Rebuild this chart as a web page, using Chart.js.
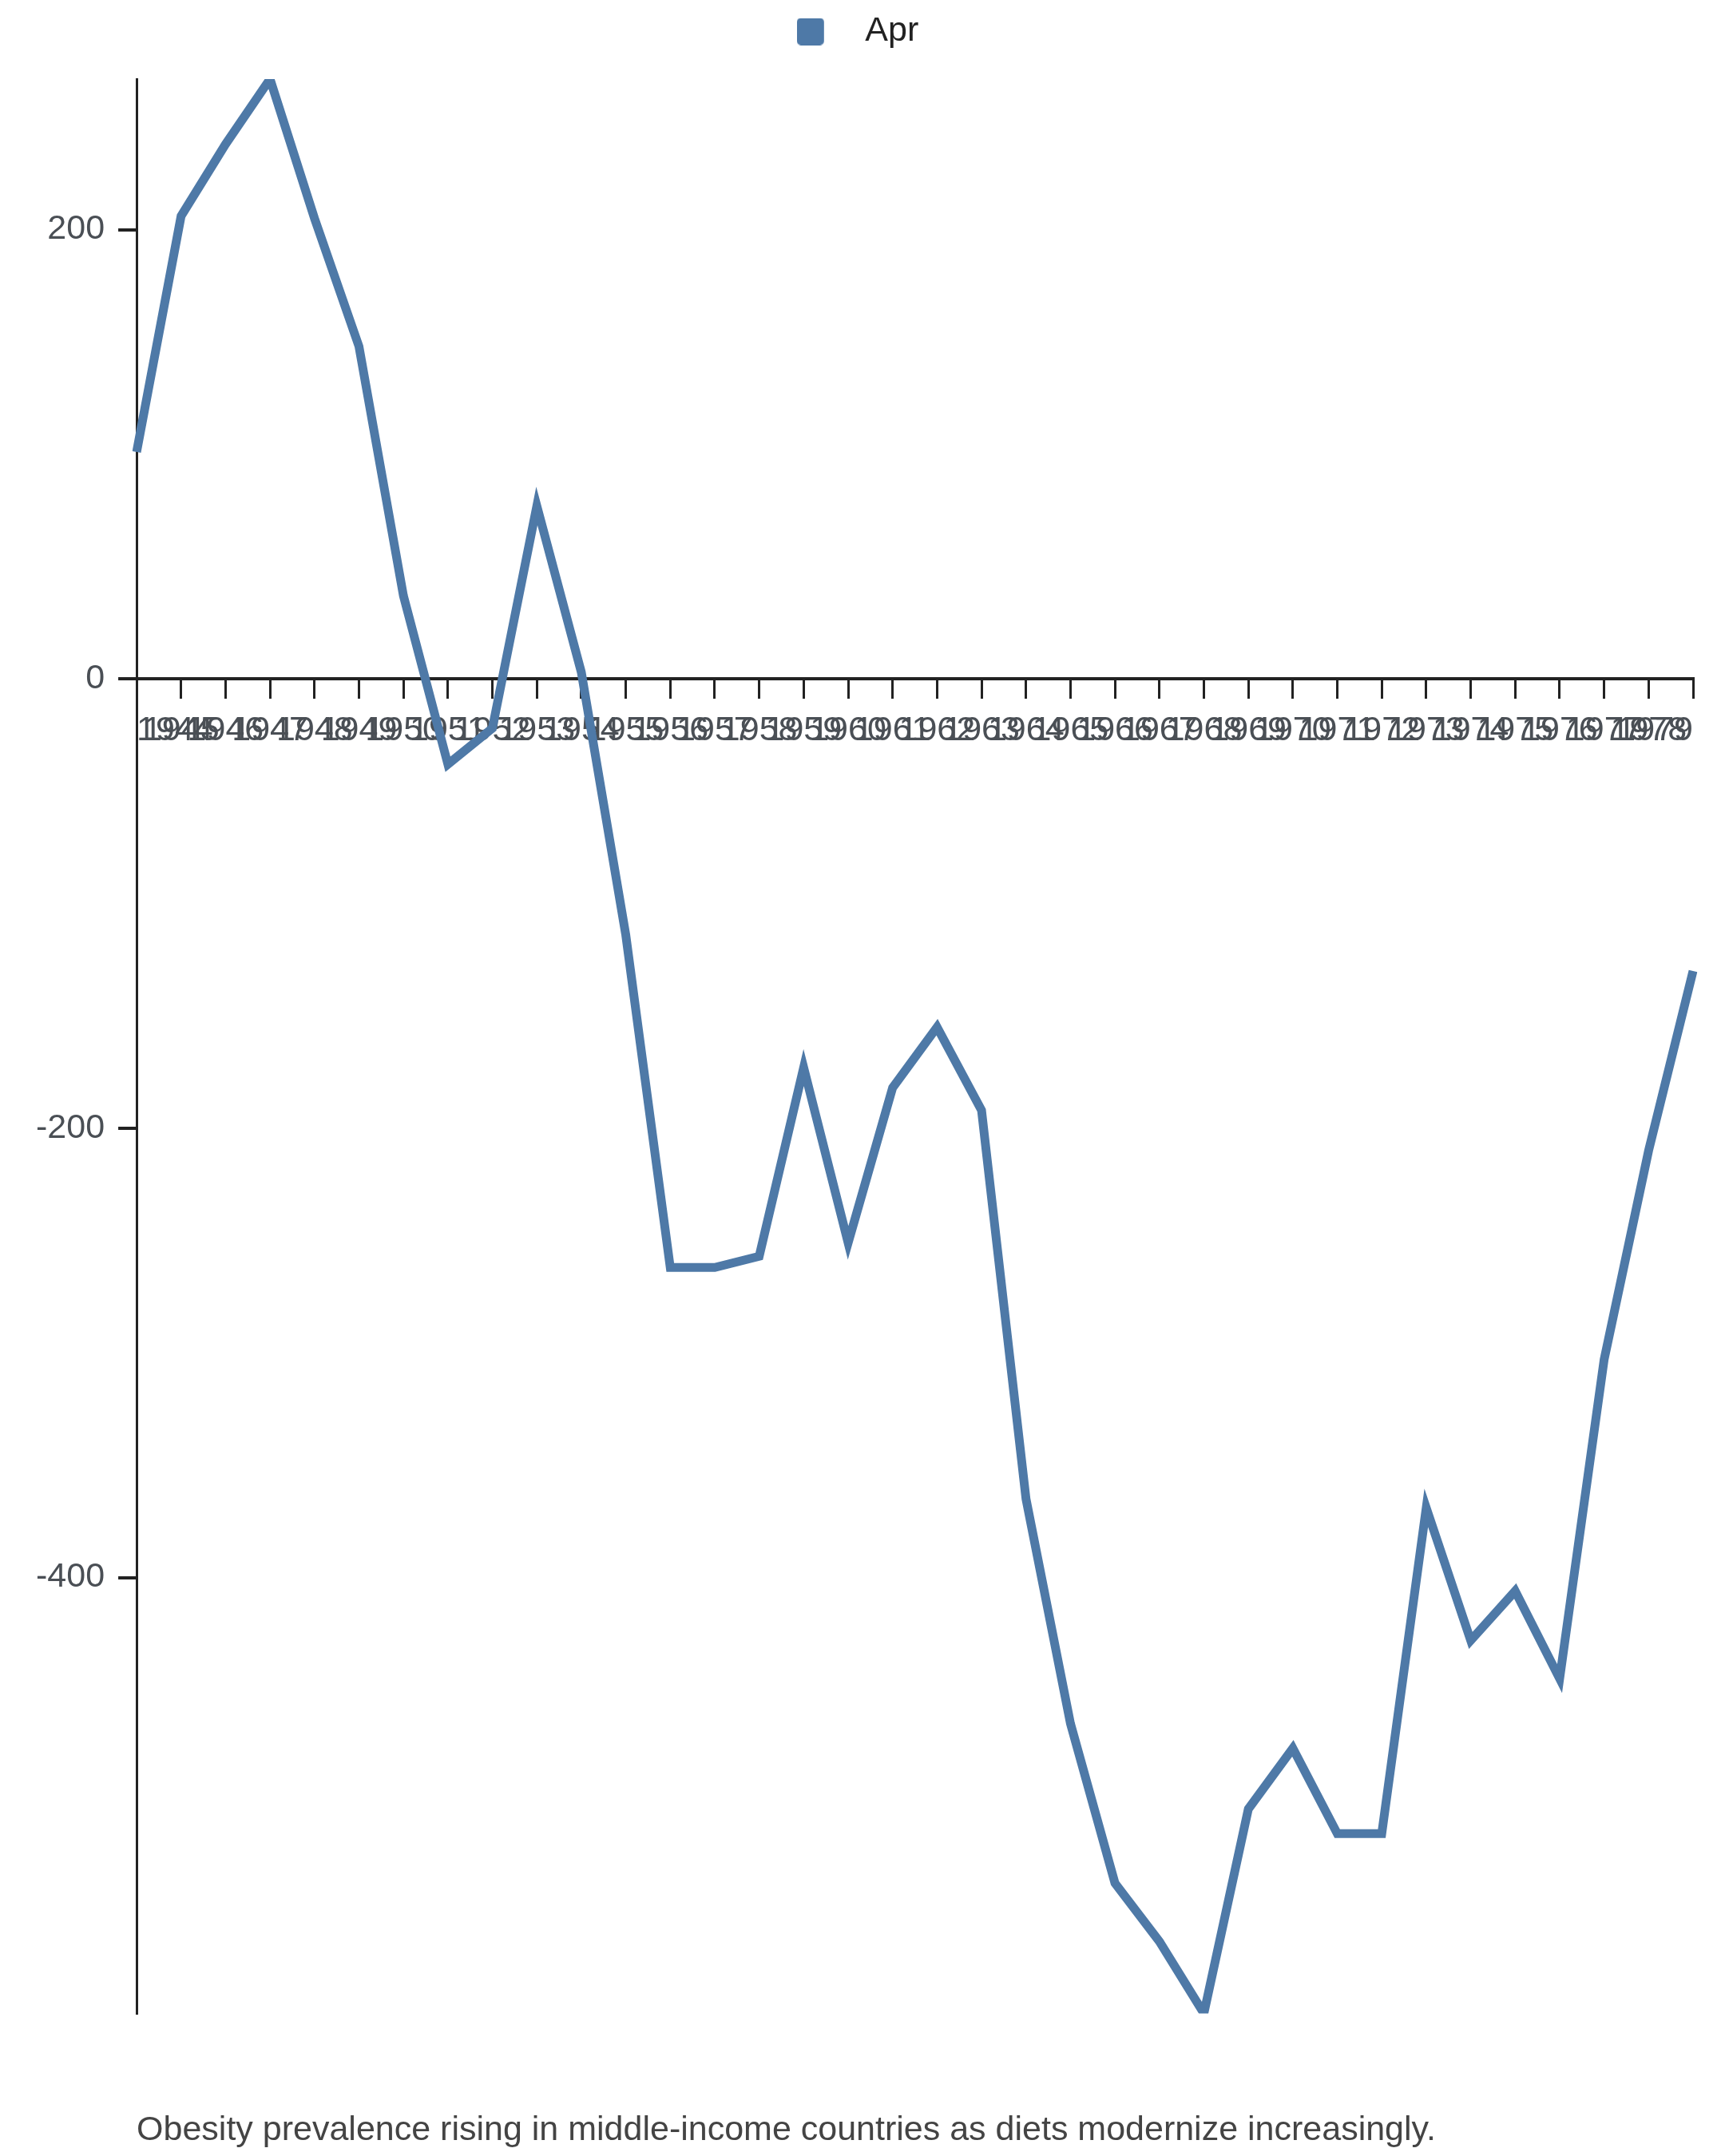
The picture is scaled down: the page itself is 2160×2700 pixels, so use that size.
<!DOCTYPE html>
<html>
<head>
<meta charset="utf-8">
<script src="https://cdn.jsdelivr.net/npm/chart.js@4.4.1/dist/chart.umd.min.js"></script>
<style>
  html, body { margin: 0; padding: 0; background: #fff; }
  #wrap { width: 2160px; height: 2700px; position: relative; }
</style>
</head>
<body>
<div id="wrap"><canvas id="chart"></canvas></div>
<script>
const years = ["1944", "1945", "1946", "1947", "1948", "1949", "1950", "1951", "1952", "1953",
  "1954", "1955", "1956", "1957", "1958", "1959", "1960", "1961", "1962", "1963",
  "1964", "1965", "1966", "1967", "1968", "1969", "1970", "1971", "1972", "1973",
  "1974", "1975", "1976", "1977", "1978", "1979"];

const aprValues = [101, 206, 238, 267, 205, 148, 37, -38, -22, 77,
  3, -114, -262, -262, -257, -173, -251, -182, -155, -192,
  -365, -465, -536, -562, -594, -503, -476, -514, -514, -369,
  -428, -406, -445, -303, -210, -130];

const seriesName = "Apr";
const caption = "Obesity prevalence rising in middle-income countries as diets modernize increasingly.";

const FONT = "'Liberation Sans', Arial, Helvetica, sans-serif";
const blue = "#4e79a7";
const axisColor = "#222";
const tickColor = "#4a4f55";

// legend swatch: rounded square on the left of a wider transparent box,
// so the label sits further from it
function makeSwatch() {
  const c = document.createElement("canvas");
  c.width = 64;
  c.height = 34;
  const g = c.getContext("2d");
  g.fillStyle = blue;
  g.beginPath();
  g.roundRect(0, 0, 34, 34, 5);
  g.fill();
  return c;
}

// extra room between the legend and the plot
const legendGap = {
  id: "legendGap",
  beforeInit(chart) {
    const fit = chart.legend.fit;
    chart.legend.fit = function () {
      fit.bind(chart.legend)();
      this.height += 28;
    };
  }
};

document.addEventListener("DOMContentLoaded", () => {
  const ctx = document.getElementById("chart");
  const swatch = makeSwatch();

  new Chart(ctx, {
    type: "line",
    data: {
      labels: years,
      datasets: [{
        label: seriesName,
        data: aprValues,
        borderColor: blue,
        backgroundColor: blue,
        borderWidth: 11,
        pointRadius: 0,
        tension: 0,
        borderJoinStyle: "miter"
      }]
    },
    options: {
      responsive: true,
      maintainAspectRatio: false,
      animation: false,
      layout: { padding: { left: 28, right: 40, top: 0, bottom: 0 } },
      plugins: {
        legend: {
          position: "top",
          align: "center",
          labels: {
            color: "#222",
            font: { family: FONT, size: 43 },
            usePointStyle: true,
            pointStyle: swatch,
            pointStyleWidth: 64,
            boxHeight: 34,
            padding: 18,
            generateLabels: chart =>
              Chart.defaults.plugins.legend.labels.generateLabels(chart)
                .map(l => ({ ...l, lineWidth: 0, pointStyle: swatch }))
          }
        },
        title: {
          display: true,
          text: caption,
          position: "bottom",
          align: "start",
          fullSize: false,
          color: "#444",
          font: { family: FONT, size: 43, weight: "normal" },
          padding: { top: 121, bottom: 6 }
        },
        tooltip: { enabled: false }
      },
      scales: {
        x: {
          position: { y: 0 },
          offset: false,
          grid: {
            drawOnChartArea: false,
            drawTicks: true,
            tickLength: 23,
            color: axisColor,
            lineWidth: 3
          },
          border: { display: true, color: axisColor, width: 4 },
          ticks: {
            autoSkip: false,
            maxRotation: 0,
            minRotation: 0,
            align: "inner",
            padding: 16,
            color: tickColor,
            font: { family: FONT, size: 43 }
          }
        },
        y: {
          position: "left",
          min: Math.min(...aprValues),
          max: Math.max(...aprValues),
          afterBuildTicks: scale => {
            scale.ticks = scale.ticks.filter(t => t.value % 200 === 0);
          },
          grid: {
            drawOnChartArea: false,
            drawTicks: true,
            tickLength: 23,
            color: axisColor,
            lineWidth: 4
          },
          border: { display: true, color: axisColor, width: 3 },
          ticks: {
            stepSize: 200,
            padding: 17,
            color: tickColor,
            font: { family: FONT, size: 43 }
          }
        }
      }
    },
    plugins: [legendGap]
  });
});
</script>
</body>
</html>
